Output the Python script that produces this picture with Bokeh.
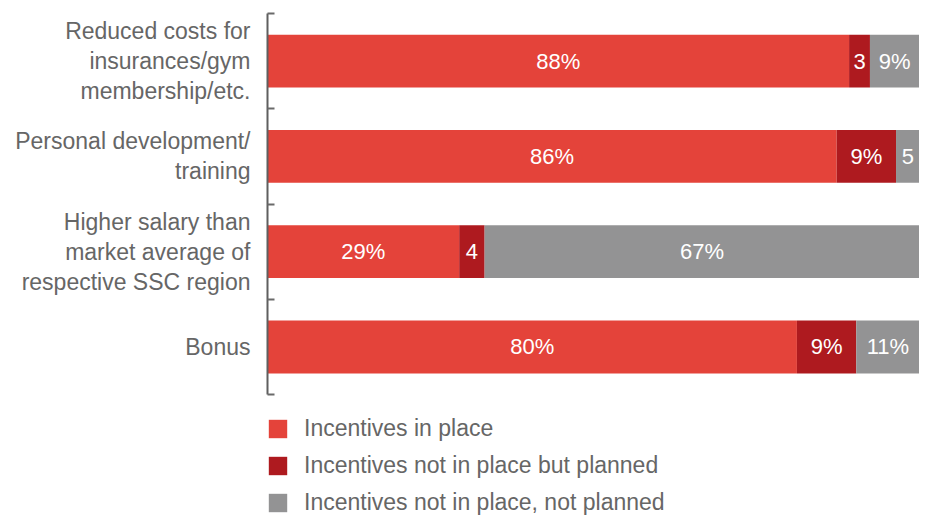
from bokeh.plotting import figure
from bokeh.models import FixedTicker, ColumnDataSource, Range1d
from bokeh.core.properties import value
from bokeh.embed import file_html
from bokeh.resources import INLINE

categories = [
    "Reduced costs for\ninsurances/gym\nmembership/etc.",
    "Personal development/\ntraining",
    "Higher salary than\nmarket average of\nrespective SSC region",
    "Bonus",
]
in_place = [89.2, 87.3, 29.4, 81.2]
planned = [3.2, 9.1, 3.9, 9.1]
not_planned = [7.6, 3.6, 66.7, 9.7]
in_place_labels = ["88%", "86%", "29%", "80%"]
planned_labels = ["3", "9%", "4", "9%"]
not_planned_labels = ["9%", "5", "67%", "11%"]
series_names = ["Incentives in place", "Incentives not in place but planned",
                "Incentives not in place, not planned"]
colors = ["#E4433A", "#AE1A1F", "#939394"]

FONT = "Liberation Sans"
n = len(categories)
ypos = [n - i for i in range(n)]

p = figure(width=919, height=515, output_backend="svg", toolbar_location=None,
           x_range=Range1d(0, 100), y_range=Range1d(-0.77, n + 0.5),
           x_axis_location=None, min_border_left=267, min_border_right=0,
           min_border_top=13, min_border_bottom=0)
p.outline_line_color = None
p.grid.visible = False
p.background_fill_color = "white"

series = [in_place, planned, not_planned]
labels = [in_place_labels, planned_labels, not_planned_labels]
left = [0.0] * n
for vals, labs, col, name in zip(series, labels, colors, series_names):
    right = [l + v for l, v in zip(left, vals)]
    src = ColumnDataSource(dict(y=ypos, left=left, right=right,
                                xc=[(l + r) / 2 for l, r in zip(left, right)], lab=labs))
    p.hbar(y="y", left="left", right="right", height=0.556, source=src,
           fill_color=col, line_color=None, legend_label=name)
    p.text(x="xc", y="y", text="lab", source=src, text_align="center",
           text_baseline="middle", text_color="white",
           text_font=value(FONT), text_font_size="22px")
    left = right

ax = p.yaxis[0]
ax.ticker = FixedTicker(ticks=ypos, minor_ticks=[k + 0.5 for k in range(n + 1)])
ax.bounds = (0.5, n + 0.5)
ax.major_label_overrides = {y: c for y, c in zip(ypos, categories)}
ax.major_tick_line_color = None
ax.major_tick_in = 0
ax.major_tick_out = 0
ax.minor_tick_in = 7
ax.minor_tick_out = 0
ax.minor_tick_line_color = "#6a6a6a"
ax.minor_tick_line_width = 2
ax.axis_line_color = "#5f5f5f"
ax.axis_line_width = 2
ax.major_label_standoff = 17
ax.major_label_text_font = FONT
ax.major_label_text_font_size = "23px"
ax.major_label_text_color = "#666666"
ax.major_label_text_line_height = 1.15

lg = p.legend[0]
lg.location = (-1, -1)
lg.padding = 0
lg.margin = 0
lg.border_line_color = None
lg.background_fill_alpha = 0
lg.glyph_width = 23
lg.glyph_height = 23
lg.label_height = 23
lg.spacing = 10
lg.label_standoff = 15
lg.label_text_font = FONT
lg.label_text_font_size = "23px"
lg.label_text_color = "#666666"

open("out.html", "w").write(file_html(p, INLINE))
